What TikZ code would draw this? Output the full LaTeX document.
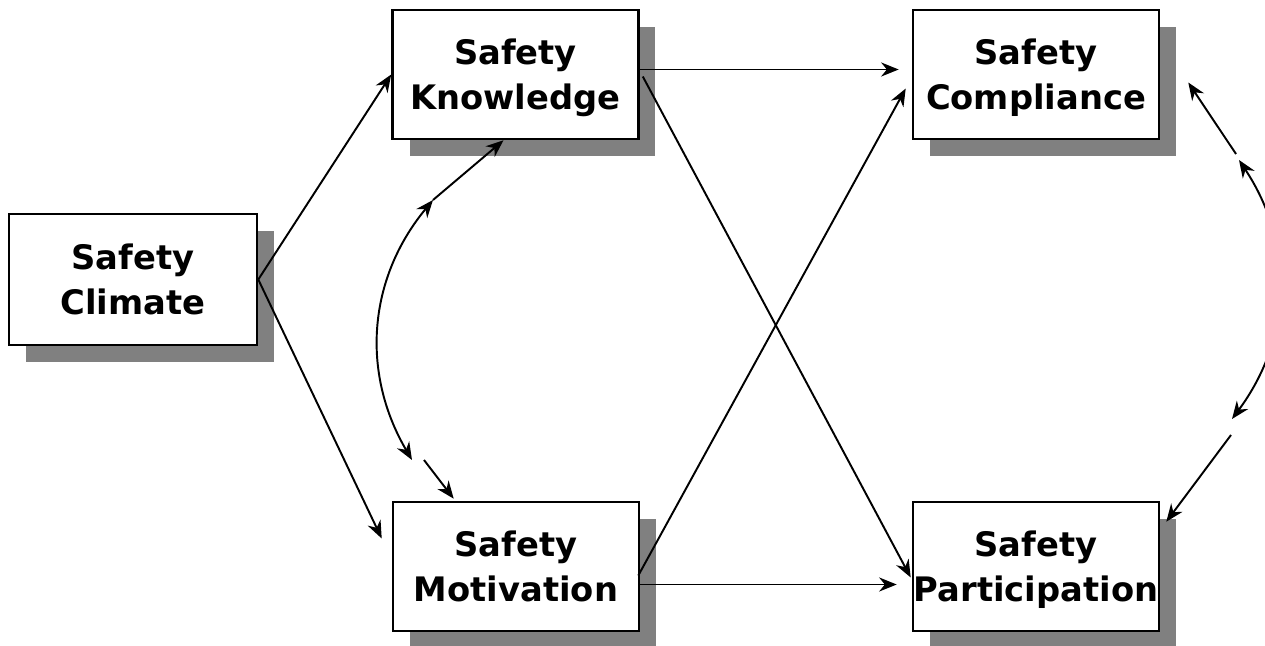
\documentclass[tikz,border=0pt]{standalone}
\usepackage{fontspec}
\setmainfont{DejaVu Sans}
\usetikzlibrary{arrows.meta,shadows}

\begin{document}
\begin{tikzpicture}[x=0.02cm, y=-0.02cm,
    box/.style={draw, line width=1.5pt, fill=white, minimum width=4.92cm,
        minimum height=2.58cm, inner xsep=0pt, inner ysep=1pt, align=center, text depth=0pt,
        font=\fontsize{19.2}{25.6}\selectfont\bfseries,
        drop shadow={shadow xshift=0.34cm, shadow yshift=-0.34cm, fill=black!50, opacity=1}},
    link/.style={-{Stealth[length=10pt, width=8pt]}, line width=1.1pt},
    both/.style={{Stealth[length=10pt, width=8pt]}-{Stealth[length=10pt, width=8pt]}, line width=1.1pt}]
    \useasboundingbox (0,0) rectangle (1265,646);

    \node[box, minimum width=4.96cm, minimum height=2.62cm] (clim) at (133,279.5) {Safety\\Climate};
    \node[box] (kno) at (515.5,74.5) {Safety\\Knowledge};
    \node[box] (mot) at (516,566.5) {Safety\\Motivation};
    \node[box] (com) at (1036,74.5) {Safety\\Compliance};
    \node[box] (par) at (1036,566.5) {Safety\\Participation};

    % paths from climate
    \draw[link] (clim.east) -- (kno.west);
    \draw[link] (clim.east) -- ([shift={(-10,-28)}]mot.west);

    % paths to outcomes
    \draw[link] ([shift={(0,-5)}]kno.east) -- ([shift={(-13,-5)}]com.west);
    \draw[link] ([shift={(3,2)}]kno.east) -- ([shift={(-1,11)}]par.west);
    \draw[link] ([shift={(-2,9)}]mot.east) -- ([shift={(-6,14)}]com.west);
    \draw[link] ([shift={(0,18)}]mot.east) -- ([shift={(-15,18)}]par.west);

    % correlations
    \coordinate (kl) at (433,200);
    \coordinate (ml) at (412,460);
    \coordinate (cr) at (1239,160);
    \coordinate (pr) at (1232,419);

    \draw[link] (kl) -- ([shift={(-12,0)}]kno.south);
    \draw[both] (kl) to[bend right=35] (ml);
    \draw[link] ([shift={(12,0)}]ml) -- ([shift={(62,-2)}]mot.north west);

    \draw[link] ([shift={(-3,-6)}]cr) -- ([shift={(28,8)}]com.east);
    \draw[both] (cr) to[bend left=35] (pr);
    \draw[link] ([shift={(-1,16)}]pr) -- ([shift={(6,21)}]par.north east);
\end{tikzpicture}
\end{document}
